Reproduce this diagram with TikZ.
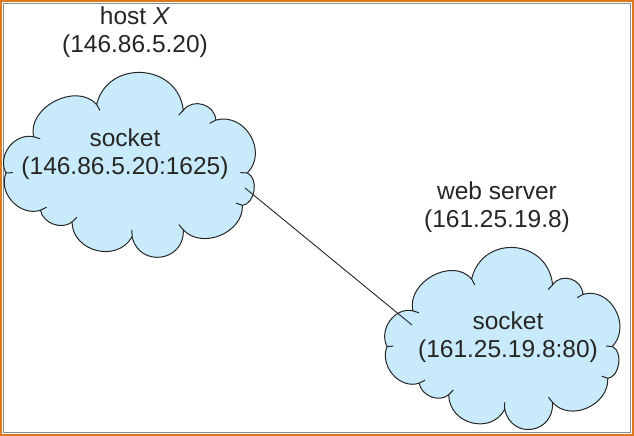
\documentclass[tikz,border=0pt]{standalone}
\usepackage{fontspec}
\setmainfont{Liberation Sans}
\usetikzlibrary{calc}
\definecolor{cloudblue}{RGB}{200,234,250}
\definecolor{frameorange}{RGB}{222,122,30}
\newcommand\mycloud{%
  \path[cloudshape] (28,63) to[bend left=75,looseness=1.1] (92,30) to[bend left=80,looseness=1.4] (180,36)
    to[bend left=70,looseness=1.2] (213,46) to[bend left=75,looseness=1.25] (245,100) to[bend left=75] (240,133)
    to[bend left=70,looseness=1.1] (180,158) to[bend left=85,looseness=1.6] (128,165) to[bend left=75,looseness=1.25] (67,150)
    to[bend left=60] (35,138) to[bend left=65,looseness=1.1] (0,100) to[bend left=65,looseness=1.1] (28,63) -- cycle;
  \foreach \px/\py in {28/63,92/30,180/36,213/46,245/100,240/133,180/158,128/165,67/150,35/138,0/100}
    \draw[tick] (\px,\py) -- ($(\px,\py)!7pt!(126,93)$);
}
\begin{document}
\begin{tikzpicture}[x=1pt,y=-1pt,
  cloudshape/.style={fill=cloudblue,draw=black!85,line width=1pt},
  tick/.style={draw=black!85,line width=1pt},
  lbl/.style={align=center,font=\fontsize{24.5}{28.5}\selectfont,text=black!85,inner sep=0pt},
  link/.style={draw=black!85,line width=0.9pt}]
\useasboundingbox (0,0) rectangle (634,436);
\fill[white] (0,0) rectangle (634,436);
\draw[frameorange,line width=2.2pt] (1.1,1.1) rectangle (632.9,434.9);
\draw[black!45,line width=0.8pt] (3.6,3.6) rectangle (630.4,432.4);
\begin{scope}[shift={(6,75)},xscale=0.985,yscale=0.98]
  \mycloud
\end{scope}
\begin{scope}[shift={(387,250)},xscale=0.92,yscale=0.965]
  \mycloud
\end{scope}
\coordinate (a) at (245,188);
\coordinate (b) at (412,325);
\draw[link] (a) -- (b);
\node[lbl] (hostx) at (135,32) {host \textit{X}\\(146.86.5.20)};
\node[lbl] (sock1) at (125,154) {socket\\(146.86.5.20:1625)};
\node[lbl] (web) at (497,207) {web server\\(161.25.19.8)};
\node[lbl] (sock2) at (508,337) {socket\\(161.25.19.8:80)};
\end{tikzpicture}
\end{document}
